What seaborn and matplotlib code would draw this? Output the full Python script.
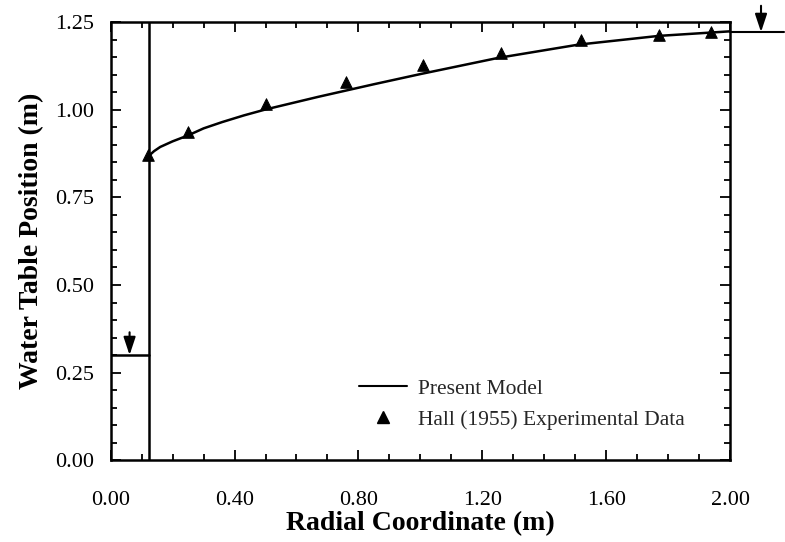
#!/usr/bin/env python3
import matplotlib
matplotlib.use("Agg")
import matplotlib.pyplot as plt
import pandas as pd
import seaborn as sns
from matplotlib.lines import Line2D
from matplotlib.ticker import MultipleLocator

# model curve (present model)
model_r = [0.125, 0.14, 0.16, 0.20, 0.25, 0.30, 0.36, 0.43, 0.50, 0.67, 0.85, 1.00,
           1.25, 1.51, 1.77, 2.00]
model_h = [0.870, 0.882, 0.894, 0.910, 0.927, 0.947, 0.965, 0.984, 1.001, 1.037, 1.073,
           1.102, 1.148, 1.186, 1.211, 1.224]

# Hall (1955) experimental data
hall_r = [0.12, 0.25, 0.50, 0.76, 1.01, 1.26, 1.52, 1.77, 1.94]
hall_h = [0.870, 0.937, 1.018, 1.080, 1.127, 1.163, 1.199, 1.213, 1.222]

# well geometry and boundary levels
well_radius = 0.125
well_level = 0.30
outer_level = 1.222
outer_edge = 2.174
well_arrow_r = 0.061
outer_arrow_r = 2.10

model = pd.DataFrame({"r": model_r, "h": model_h})
hall = pd.DataFrame({"r": hall_r, "h": hall_h})

sns.set_theme(style="ticks")
plt.rcParams["font.family"] = ["Liberation Serif", "DejaVu Serif"]

fig = plt.figure(figsize=(7.85, 5.42), dpi=100)
ax = fig.add_axes([0.141, 0.151, 0.789, 0.808])

sns.lineplot(data=model, x="r", y="h", color="black", lw=1.8, ax=ax, sort=False)
sns.scatterplot(data=hall, x="r", y="h", marker="^", s=70, color="black",
                edgecolor="black", ax=ax, zorder=3)

# well wall and water levels
ax.axvline(well_radius, color="black", lw=1.8)
ax.plot([0, well_radius], [well_level, well_level], color="black", lw=1.8)
ax.plot([2.0, outer_edge], [outer_level, outer_level], color="black", lw=1.5, clip_on=False)

arrow = dict(arrowstyle="-|>,head_length=0.9,head_width=0.3", color="black", lw=1.5,
             shrinkA=0, shrinkB=0)
ax.annotate("", xy=(well_arrow_r, well_level), xytext=(well_arrow_r, well_level + 0.065),
            arrowprops=arrow)
ax.annotate("", xy=(outer_arrow_r, outer_level), xytext=(outer_arrow_r, outer_level + 0.075),
            arrowprops=arrow, annotation_clip=False)

ax.set_xlim(0, 2.0)
ax.set_ylim(0, 1.25)
ax.xaxis.set_major_locator(MultipleLocator(0.4))
ax.xaxis.set_minor_locator(MultipleLocator(0.1))
ax.yaxis.set_major_locator(MultipleLocator(0.25))
ax.yaxis.set_minor_locator(MultipleLocator(0.05))
ax.xaxis.set_major_formatter(lambda v, p: f"{v:.2f}")
ax.yaxis.set_major_formatter(lambda v, p: f"{v:.2f}")
ax.tick_params(which="both", direction="in", top=True, right=True, width=1.3,
               color="black", labelcolor="black", labelsize=16)
ax.tick_params(which="major", length=7)
ax.tick_params(which="minor", length=4)
ax.tick_params(axis="x", pad=22)
ax.tick_params(axis="y", pad=12)
for sp in ax.spines.values():
    sp.set_linewidth(1.8)
    sp.set_color("black")

ax.set_xlabel("Radial Coordinate (m)", fontsize=20, fontweight="bold", labelpad=1,
              color="black")
ax.set_ylabel("Water Table Position (m)", fontsize=20, fontweight="bold", labelpad=8,
              color="black")

handles = [
    Line2D([], [], color="black", lw=1.5),
    Line2D([], [], color="black", marker="^", ls="none", markersize=8),
]
ax.legend(handles, ["Present Model", "Hall (1955) Experimental Data"], frameon=False,
          loc="lower left", bbox_to_anchor=(0.37, 0.025), fontsize=15.5, handlelength=2.2,
          labelspacing=0.5, handletextpad=0.55)

fig.savefig("out.png", dpi=100)
